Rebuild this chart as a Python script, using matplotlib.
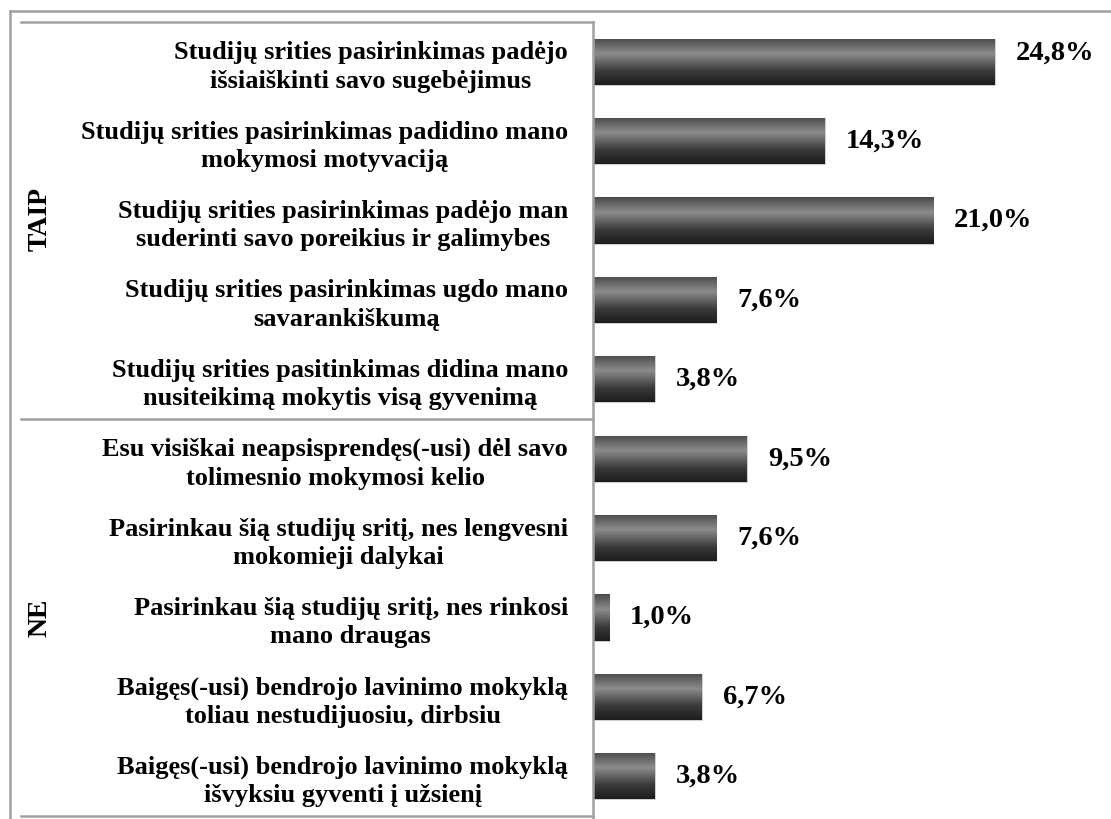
import matplotlib
matplotlib.use("Agg")
import matplotlib.pyplot as plt
import numpy as np
from matplotlib.colors import LinearSegmentedColormap
from matplotlib.lines import Line2D

categories = [
    "Studijų srities pasirinkimas padėjo\nišsiaiškinti savo sugebėjimus",
    "Studijų srities pasirinkimas padidino mano\nmokymosi motyvaciją",
    "Studijų srities pasirinkimas padėjo man\nsuderinti savo poreikius ir galimybes",
    "Studijų srities pasirinkimas ugdo mano\nsavarankiškumą",
    "Studijų srities pasitinkimas didina mano\nnusiteikimą mokytis visą gyvenimą",
    "Esu visiškai neapsisprendęs(-usi) dėl savo\ntolimesnio mokymosi kelio",
    "Pasirinkau šią studijų sritį, nes lengvesni\nmokomieji dalykai",
    "Pasirinkau šią studijų sritį, nes rinkosi\nmano draugas",
    "Baigęs(-usi) bendrojo lavinimo mokyklą\ntoliau nestudijuosiu, dirbsiu",
    "Baigęs(-usi) bendrojo lavinimo mokyklą\nišvyksiu gyventi į užsienį",
]
values = [24.8, 14.3, 21.0, 7.6, 3.8, 9.5, 7.6, 1.0, 6.7, 3.8]
value_labels = ["24,8%", "14,3%", "21,0%", "7,6%", "3,8%", "9,5%", "7,6%", "1,0%", "6,7%", "3,8%"]
groups = ["TAIP", "NE"]

W, H = 1111, 819
fig = plt.figure(figsize=(W / 100, H / 100), dpi=100)
font = "Liberation Serif"

ax_left, ax_right = 593, 1111
ax_top, ax_bot = 22, 816
ax = fig.add_axes([ax_left / W, (H - ax_bot) / H, (ax_right - ax_left) / W, (ax_bot - ax_top) / H])
n = len(values)
y = np.arange(n)
ax.set_ylim(n - 0.5, -0.5)
ax.set_xlim(0, (ax_right - ax_left) / 16.2)
for s in ax.spines.values():
    s.set_visible(False)
ax.set_xticks([])

cmap = LinearSegmentedColormap.from_list(
    "bar", [(0.0, "#4a4a4a"), (0.33, "#8c8c8c"), (0.7, "#3a3a3a"), (1.0, "#1c1c1c")])
grad = np.linspace(0, 1, 256).reshape(-1, 1)
bh = 0.58
bars = ax.barh(y, values, height=bh, color="#555555", edgecolor="#d0d0d0", linewidth=0.8, zorder=2)
for b in bars:
    x0, y0 = b.get_x(), b.get_y()
    im = ax.imshow(grad, cmap=cmap, aspect="auto", extent=(x0, x0 + b.get_width(), y0 + b.get_height(), y0),
                   zorder=3, interpolation="bilinear")
    im.set_clip_path(b)

for i, (v, lab) in enumerate(zip(values, value_labels)):
    dy = 9 if i == 0 else 0
    ax.annotate(lab, (v, i), xytext=(21, dy), textcoords="offset pixels", ha="left", va="center",
                fontsize=20.5, fontweight="bold", family=font, color="black")

ax.set_yticks(y)
ax.set_yticklabels(categories, fontsize=19, fontweight="bold", family=font, linespacing=1.3)
for lbl in ax.get_yticklabels():
    lbl.set_multialignment("center")
ax.tick_params(axis="y", length=0, pad=18)

# table lines
lc = "#a0a0a0"
def fl(xs, ys, lw=1.8):
    fig.add_artist(Line2D([x / W for x in xs], [(H - yy) / H for yy in ys], color=lc, lw=lw))
fl([10, 10], [11, 819])
fl([10, 1111], [11, 11])
fl([21, 593], [22, 22])
fl([593, 593], [22, 819])
fl([21, 593], [419, 419])
fl([21, 593], [816, 816])

fig.text(40 / W, (H - 219) / H, groups[0], rotation=90, ha="center", va="center",
         fontsize=20, fontweight="bold", family=font)
fig.text(40 / W, (H - 618) / H, groups[1], rotation=90, ha="center", va="center",
         fontsize=20, fontweight="bold", family=font)

fig.savefig("out.png", dpi=100, facecolor="white")
